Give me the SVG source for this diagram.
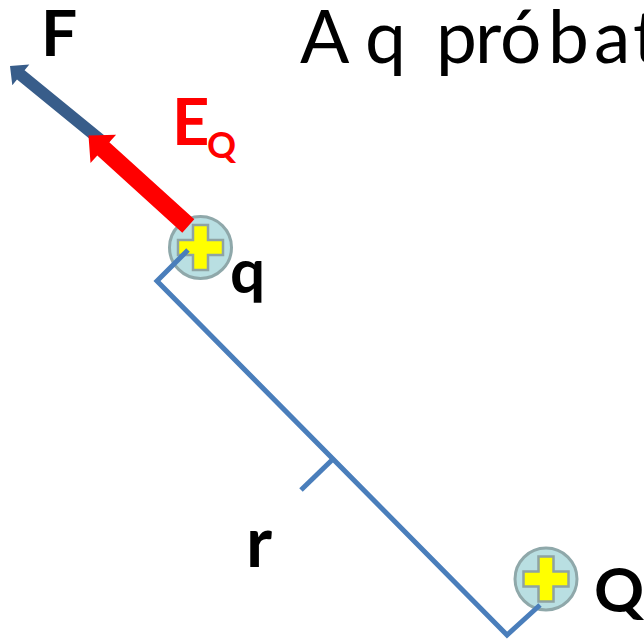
<svg xmlns="http://www.w3.org/2000/svg" width="644" height="640" viewBox="0 0 644 640">
  <style>
    .lbl { font-family: Lato, "Liberation Sans", sans-serif; font-weight: bold; fill: #000000; }
    .title { font-family: Lato, "Liberation Sans", sans-serif; font-weight: normal; fill: #000000; }
    .red { fill: #ff0000; }
    .charge { fill: #b9dfe2; stroke: #8fa8aa; stroke-width: 3; }
    .plus { fill: #ffff00; stroke: #8fa3a3; stroke-width: 2.5; stroke-linejoin: miter; }
    .bracket { fill: none; stroke: #4a7ebb; stroke-width: 5; stroke-linecap: butt; stroke-linejoin: miter; }
  </style>
  <defs>
    <g id="charge">
      <circle cx="0" cy="0" r="31" class="charge"/>
      <path class="plus" d="M -7.5 -22.5 H 7.5 V -7.5 H 22.5 V 7.5 H 7.5 V 22.5 H -7.5 V 7.5 H -22.5 V -7.5 H -7.5 Z"/>
    </g>
  </defs>
  <rect x="0" y="0" width="644" height="640" fill="#ffffff"/>

  <text class="title" x="300 345 365 405 436 475 500 548 594 633" y="63" font-size="73">A q próbat</text>

  <g id="node-q">
    <use href="#charge" x="200.5" y="247.5"/>
  </g>
  <g id="node-Q">
    <use href="#charge" x="546" y="579"/>
  </g>

  <g id="connectors">
    <polygon id="arrow-F" fill="#385d8a" points="10,66 29.3,64.5 24.6,70.3 110.6,140.5 103,149.7 17,79.5 12.3,85.3"/>
    <polygon id="arrow-EQ" class="red" points="88.5,135.5 116.1,134.8 109.3,142.2 194.3,219.3 182.3,232.7 97.3,155.6 90.5,163"/>
    <polyline class="bracket" points="188,250 157,281 507,635 540,605"/>
    <line class="bracket" x1="332" y1="460" x2="301" y2="490"/>
  </g>

  <g id="labels">
    <text class="lbl" x="41" y="56" font-size="64">F</text>
    <text class="lbl red" x="172" y="145" font-size="65">E</text>
    <text class="lbl red" x="207" y="158" font-size="36">Q</text>
    <text class="lbl" x="230" y="293" font-size="62">q</text>
    <text class="lbl" x="246" y="567" font-size="70">r</text>
    <text class="lbl" x="594" y="612" font-size="62">Q</text>
  </g>
</svg>
